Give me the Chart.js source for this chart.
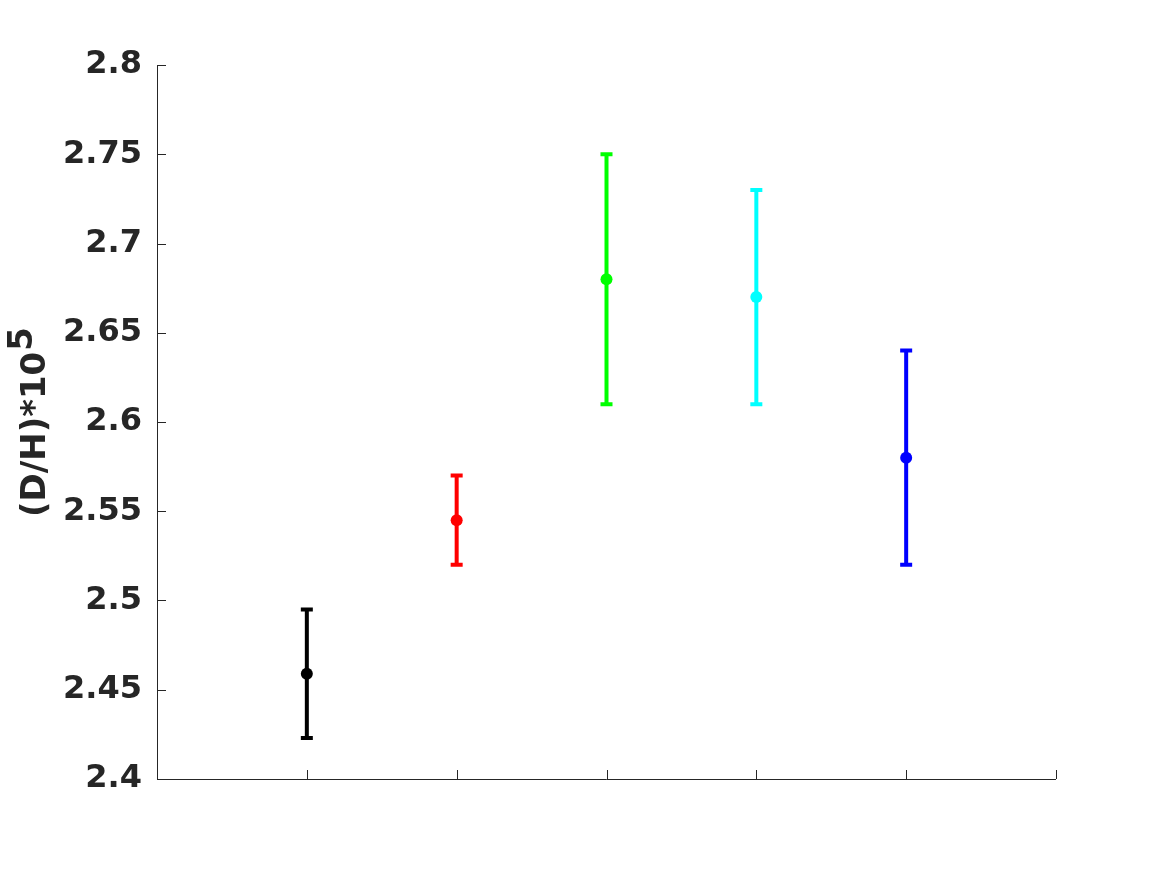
<!DOCTYPE html>
<html>
<head>
<meta charset="utf-8">
<title>D/H</title>
<script src="https://cdn.jsdelivr.net/npm/chart.js@4.4.1/dist/chart.umd.min.js"></script>
<style>
    html, body { margin: 0; padding: 0; background: #ffffff; }
    #wrap { width: 1167px; height: 875px; }
</style>
</head>
<body>
<div id="wrap"><canvas id="dhChart" width="1167" height="875"></canvas></div>
<script>
// x positions of the five measurements
const categories = [1, 2, 3, 4, 5];
const dhValues = [2.459, 2.545, 2.68, 2.67, 2.58];
const errLow = [2.423, 2.52, 2.61, 2.61, 2.52];
const errHigh = [2.495, 2.57, 2.75, 2.73, 2.64];
const pointColors = ['#000000', '#ff0000', '#00ff00', '#00ffff', '#0000ff'];
const xTicks = [1, 2, 3, 4, 5, 6];
const yMin = 2.4, yMax = 2.8, yStep = 0.05;

const axisColor = '#262626';

// error bars drawn from the data through the chart's scales
const errorBars = {
    id: 'errorBars',
    beforeDatasetsDraw(chart) {
        const ctx = chart.ctx;
        const x = chart.scales.x, y = chart.scales.y;
        ctx.save();
        ctx.lineWidth = 4;
        categories.forEach((c, i) => {
            const px = x.getPixelForValue(c);
            const top = y.getPixelForValue(errHigh[i]);
            const bot = y.getPixelForValue(errLow[i]);
            ctx.strokeStyle = pointColors[i];
            ctx.beginPath();
            ctx.moveTo(px, top);
            ctx.lineTo(px, bot);
            ctx.moveTo(px - 6, top);
            ctx.lineTo(px + 6, top);
            ctx.moveTo(px - 6, bot);
            ctx.lineTo(px + 6, bot);
            ctx.stroke();
        });
        ctx.restore();
    }
};

// MATLAB style axes: left + bottom lines, ticks pointing inward
const innerAxes = {
    id: 'innerAxes',
    afterDraw(chart) {
        const ctx = chart.ctx;
        const a = chart.chartArea;
        const x = chart.scales.x, y = chart.scales.y;
        ctx.save();
        ctx.strokeStyle = axisColor;
        ctx.lineWidth = 1;
        ctx.beginPath();
        ctx.moveTo(a.left + 0.5, a.top);
        ctx.lineTo(a.left + 0.5, a.bottom + 0.5);
        ctx.lineTo(a.right, a.bottom + 0.5);
        y.ticks.forEach(t => {
            const py = Math.round(y.getPixelForValue(t.value)) + 0.5;
            ctx.moveTo(a.left, py);
            ctx.lineTo(a.left + 9, py);
        });
        xTicks.forEach(v => {
            const px = Math.round(x.getPixelForValue(v)) + 0.5;
            ctx.moveTo(px, a.bottom);
            ctx.lineTo(px, a.bottom - 9);
        });
        ctx.stroke();

        // y title with superscript
        ctx.fillStyle = axisColor;
        ctx.font = 'bold 34px "DejaVu Sans"';
        ctx.translate(45, 517);
        ctx.rotate(-Math.PI / 2);
        ctx.textAlign = 'left';
        ctx.textBaseline = 'alphabetic';
        const main = '(D/H)*10';
        ctx.fillText(main, 0, 0);
        const w = ctx.measureText(main).width;
        ctx.fillText('5', w + 1, -13);
        ctx.restore();
    }
};

new Chart(document.getElementById('dhChart').getContext('2d'), {
    type: 'scatter',
    data: {
        datasets: [{
            data: categories.map((c, i) => ({ x: c, y: dhValues[i] })),
            pointBackgroundColor: pointColors,
            pointBorderColor: pointColors,
            pointRadius: 6,
            pointBorderWidth: 0,
            showLine: false
        }]
    },
    options: {
        responsive: false,
        animation: false,
        layout: { padding: { left: 0, top: 65, right: 111, bottom: 96 } },
        plugins: {
            legend: { display: false },
            tooltip: { enabled: false }
        },
        scales: {
            x: {
                type: 'linear',
                min: 0,
                max: 6,
                grid: { display: false },
                border: { display: false },
                ticks: { display: false },
                afterFit(scale) { scale.height = 0; }
            },
            y: {
                min: yMin,
                max: yMax,
                grid: { display: false, drawTicks: false },
                border: { display: false },
                ticks: {
                    stepSize: yStep,
                    padding: 15,
                    color: axisColor,
                    font: { family: '"DejaVu Sans"', size: 32, weight: 'bold' },
                    callback: v => Number(v.toFixed(2)).toString()
                },
                afterFit(scale) { scale.width = 157; }
            }
        }
    },
    plugins: [errorBars, innerAxes]
});
</script>
</body>
</html>
